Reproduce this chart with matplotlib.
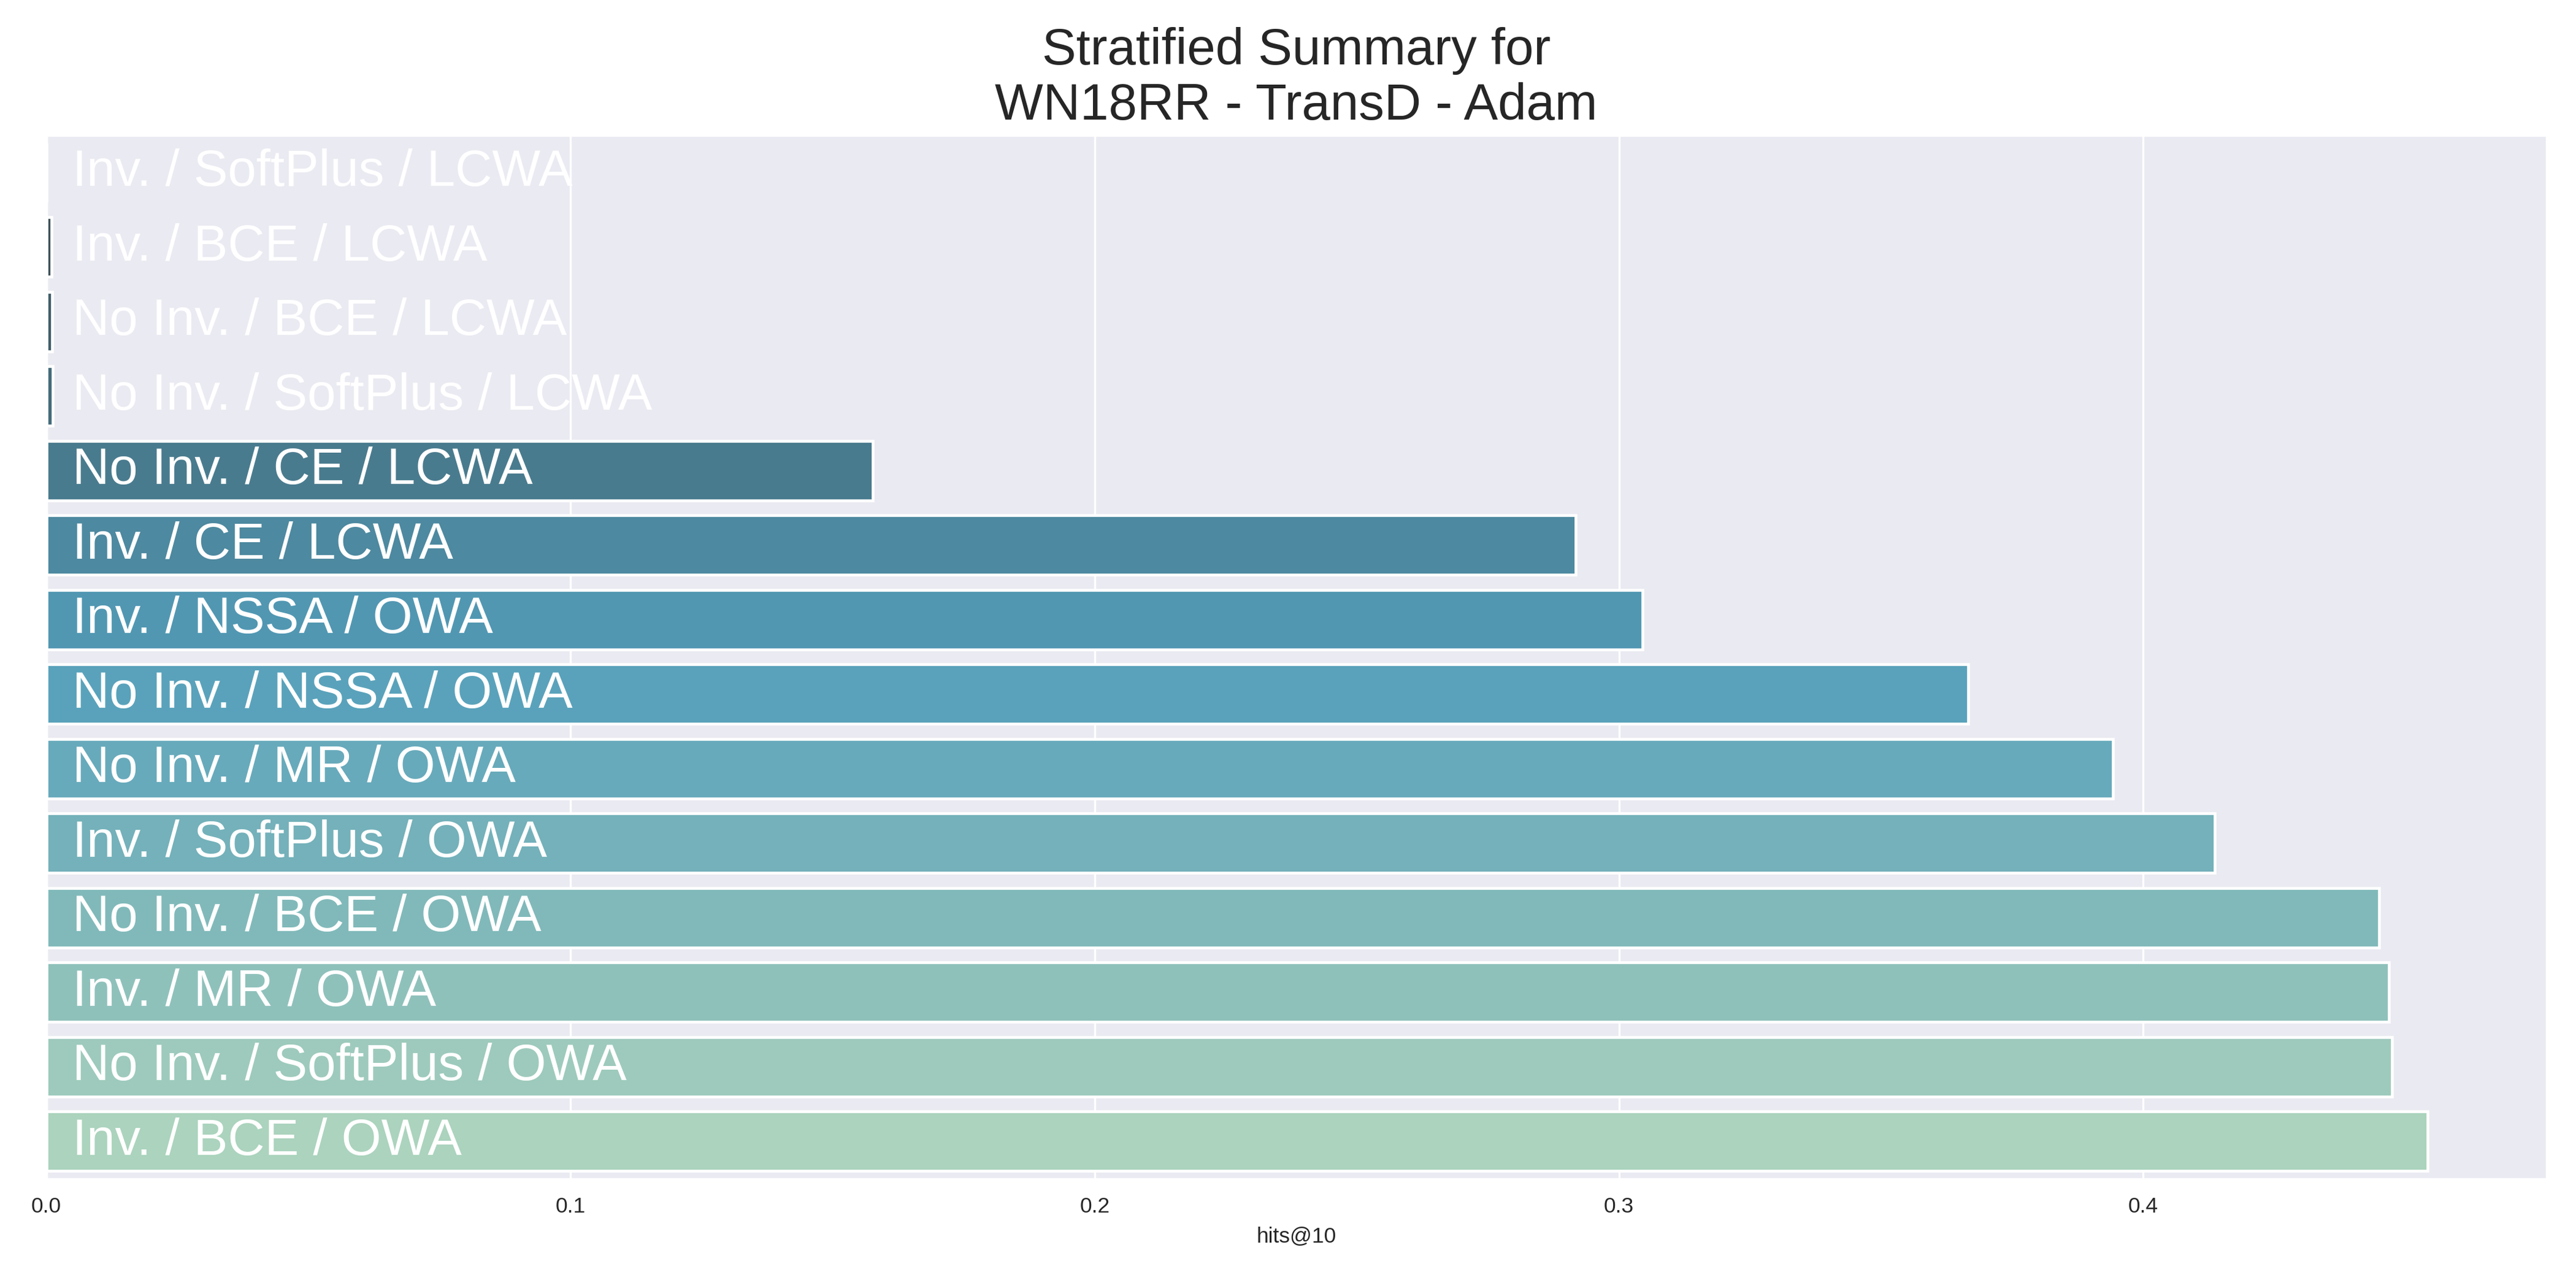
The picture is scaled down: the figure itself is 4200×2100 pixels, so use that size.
#!/usr/bin/env python3
"""Stratified summary bar chart: hits@10 per (inverse triples / loss / training loop)."""
import matplotlib
matplotlib.use("Agg")
import matplotlib.pyplot as plt
import seaborn as sns

# categories in plot order (top to bottom), sorted ascending by hits@10
labels = [
    "Inv. / SoftPlus / LCWA",
    "Inv. / BCE / LCWA",
    "No Inv. / BCE / LCWA",
    "No Inv. / SoftPlus / LCWA",
    "No Inv. / CE / LCWA",
    "Inv. / CE / LCWA",
    "Inv. / NSSA / OWA",
    "No Inv. / NSSA / OWA",
    "No Inv. / MR / OWA",
    "Inv. / SoftPlus / OWA",
    "No Inv. / BCE / OWA",
    "Inv. / MR / OWA",
    "No Inv. / SoftPlus / OWA",
    "Inv. / BCE / OWA",
]
hits_at_10 = [
    0.0001, 0.0010, 0.0011, 0.0012,
    0.1576, 0.2917, 0.3045, 0.3666, 0.3942,
    0.4136, 0.4450, 0.4469, 0.4475, 0.4542,
]

title = "Stratified Summary for\nWN18RR - TransD - Adam"
xlabel = "hits@10"

sns.set_style("darkgrid")
plt.rcParams["font.family"] = ["Liberation Sans", "DejaVu Sans"]

# dark -> light, desaturated like seaborn's barplot default
colors = [sns.desaturate(c, 0.75) for c in sns.color_palette("GnBu_r_d", len(labels))]

fig, ax = plt.subplots(figsize=(14, 7), dpi=300)
pos = list(range(len(labels)))
ax.barh(pos, hits_at_10, height=0.8, color=colors,
        edgecolor="white", linewidth=1.1)

for y, lab in zip(pos, labels):
    ax.text(0.005, y, lab, color="white", fontsize=20,
            ha="left", va="center")

ax.set_ylim(len(labels) - 0.5, -0.5)
ax.set_yticks([])
ax.yaxis.grid(False)
ax.set_xticks([0.0, 0.1, 0.2, 0.3, 0.4])
ax.tick_params(axis="x", labelsize=8.5)
ax.set_xlabel(xlabel, fontsize=8.5)
ax.set_title(title, fontsize=20)

fig.subplots_adjust(left=0.018, right=0.9885, top=0.895, bottom=0.085)
fig.savefig("out.png", dpi=300)
